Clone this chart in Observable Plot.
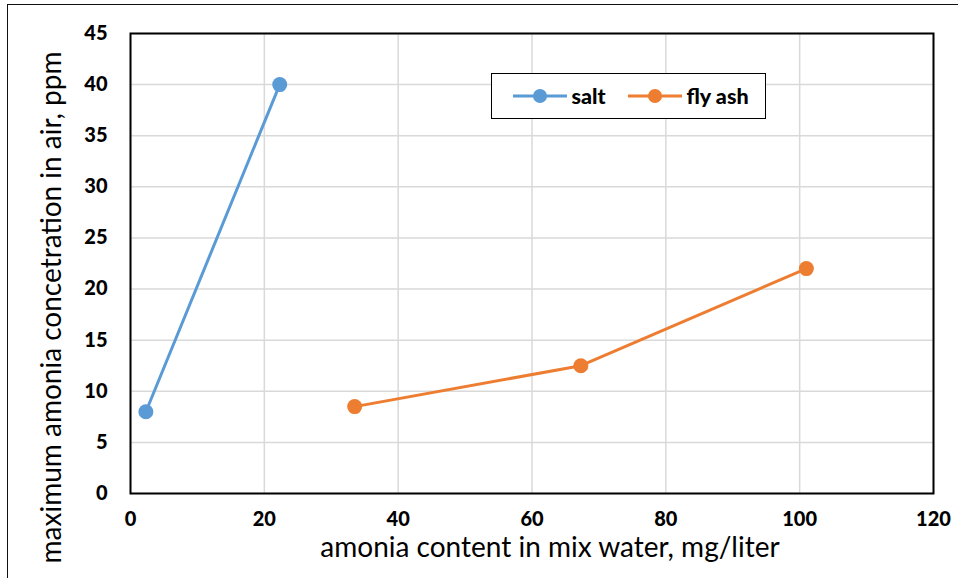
<!DOCTYPE html>
<html>
<head>
<meta charset="utf-8">
<script src="https://cdn.jsdelivr.net/npm/d3@7"></script>
<script src="https://cdn.jsdelivr.net/npm/@observablehq/plot@0.6"></script>
<style>
  html, body { margin: 0; padding: 0; background: #fff; overflow: hidden; }
  #wrap { position: relative; width: 958px; height: 578px; }
  #outer { position: absolute; left: 7px; top: 4px; width: 1000px; height: 1000px; border-left: 1.5px solid #111; border-top: 1.5px solid #111; box-sizing: border-box; pointer-events: none; }
  #legend { position: absolute; left: 491px; top: 73px; width: 275px; height: 46px; box-sizing: border-box; border: 1.5px solid #000; background: #fff; font-family: Lato, "Open Sans", sans-serif; font-weight: 900; font-size: 21.5px; color: #000; }
  #legend .item { position: absolute; top: 0; height: 43px; display: flex; align-items: center; }
  #legend svg { margin-right: 5px; }
</style>
</head>
<body>
<div id="wrap">
  <div id="chart"></div>
  <div id="outer"></div>
  <div id="legend"></div>
</div>
<script>
const seriesNames = ["salt", "fly ash"];
const seriesColors = ["#5B9BD5", "#ED7D31"];
const saltX = [2.3, 22.3];
const saltY = [8, 40];
const flyAshX = [33.5, 67.3, 101];
const flyAshY = [8.5, 12.5, 22];
const xTicks = [0, 20, 40, 60, 80, 100, 120];
const yTicks = [0, 5, 10, 15, 20, 25, 30, 35, 40, 45];
const xTitle = "amonia content in mix water, mg/liter";
const yTitle = "maximum amonia concetration in air, ppm";

const data = [
  ...saltX.map((x, i) => ({series: seriesNames[0], x, y: saltY[i]})),
  ...flyAshX.map((x, i) => ({series: seriesNames[1], x, y: flyAshY[i]}))
];

const font = 'Lato, "Open Sans", sans-serif';

const chart = Plot.plot({
  width: 958,
  height: 578,
  marginLeft: 130,
  marginRight: 25,
  marginTop: 33,
  marginBottom: 85,
  style: { fontFamily: font, background: "#fff", overflow: "visible" },
  x: { domain: [0, 120], axis: null },
  y: { domain: [0, 45], axis: null },
  color: { domain: seriesNames, range: seriesColors },
  marks: [
    Plot.gridX(xTicks, { stroke: "#d9d9d9", strokeOpacity: 1, strokeWidth: 1.5 }),
    Plot.gridY(yTicks, { stroke: "#d9d9d9", strokeOpacity: 1, strokeWidth: 1.5 }),
    Plot.frame({ stroke: "#000", strokeWidth: 2 }),
    Plot.text(xTicks, { x: d => d, frameAnchor: "bottom", dy: 32, text: d => String(d), fontSize: 20, fontWeight: 900, fill: "#000", textAnchor: "middle" }),
    Plot.text(yTicks, { y: d => d, frameAnchor: "left", dx: -23, text: d => String(d), fontSize: 20, fontWeight: 900, fill: "#000", textAnchor: "end" }),
    Plot.line(data, { x: "x", y: "y", z: "series", stroke: "series", strokeWidth: 3 }),
    Plot.dot(data, { x: "x", y: "y", fill: "series", r: 7.5, stroke: "none" }),
    Plot.text([xTitle], { frameAnchor: "bottom", dx: 18, dy: 63, fontSize: 28, fill: "#000", textAnchor: "middle", text: d => d }),
    Plot.text([yTitle], { frameAnchor: "left", dx: -78, dy: 44, rotate: -90, fontSize: 28, fill: "#000", textAnchor: "middle", text: d => d })
  ]
});
document.getElementById("chart").appendChild(chart);

// legend
const legend = document.getElementById("legend");
const lefts = [20.5, 135.5];
seriesNames.forEach((name, i) => {
  const item = document.createElement("div");
  item.className = "item";
  item.style.left = lefts[i] + "px";
  const ns = "http://www.w3.org/2000/svg";
  const svg = document.createElementNS(ns, "svg");
  svg.setAttribute("width", 54);
  svg.setAttribute("height", 20);
  const line = document.createElementNS(ns, "line");
  line.setAttribute("x1", 0); line.setAttribute("x2", 54);
  line.setAttribute("y1", 10); line.setAttribute("y2", 10);
  line.setAttribute("stroke", seriesColors[i]); line.setAttribute("stroke-width", 3);
  const c = document.createElementNS(ns, "circle");
  c.setAttribute("cx", 27); c.setAttribute("cy", 10); c.setAttribute("r", 7);
  c.setAttribute("fill", seriesColors[i]);
  svg.appendChild(line); svg.appendChild(c);
  const span = document.createElement("span");
  span.textContent = name;
  item.appendChild(svg); item.appendChild(span);
  legend.appendChild(item);
});
</script>
</body>
</html>
